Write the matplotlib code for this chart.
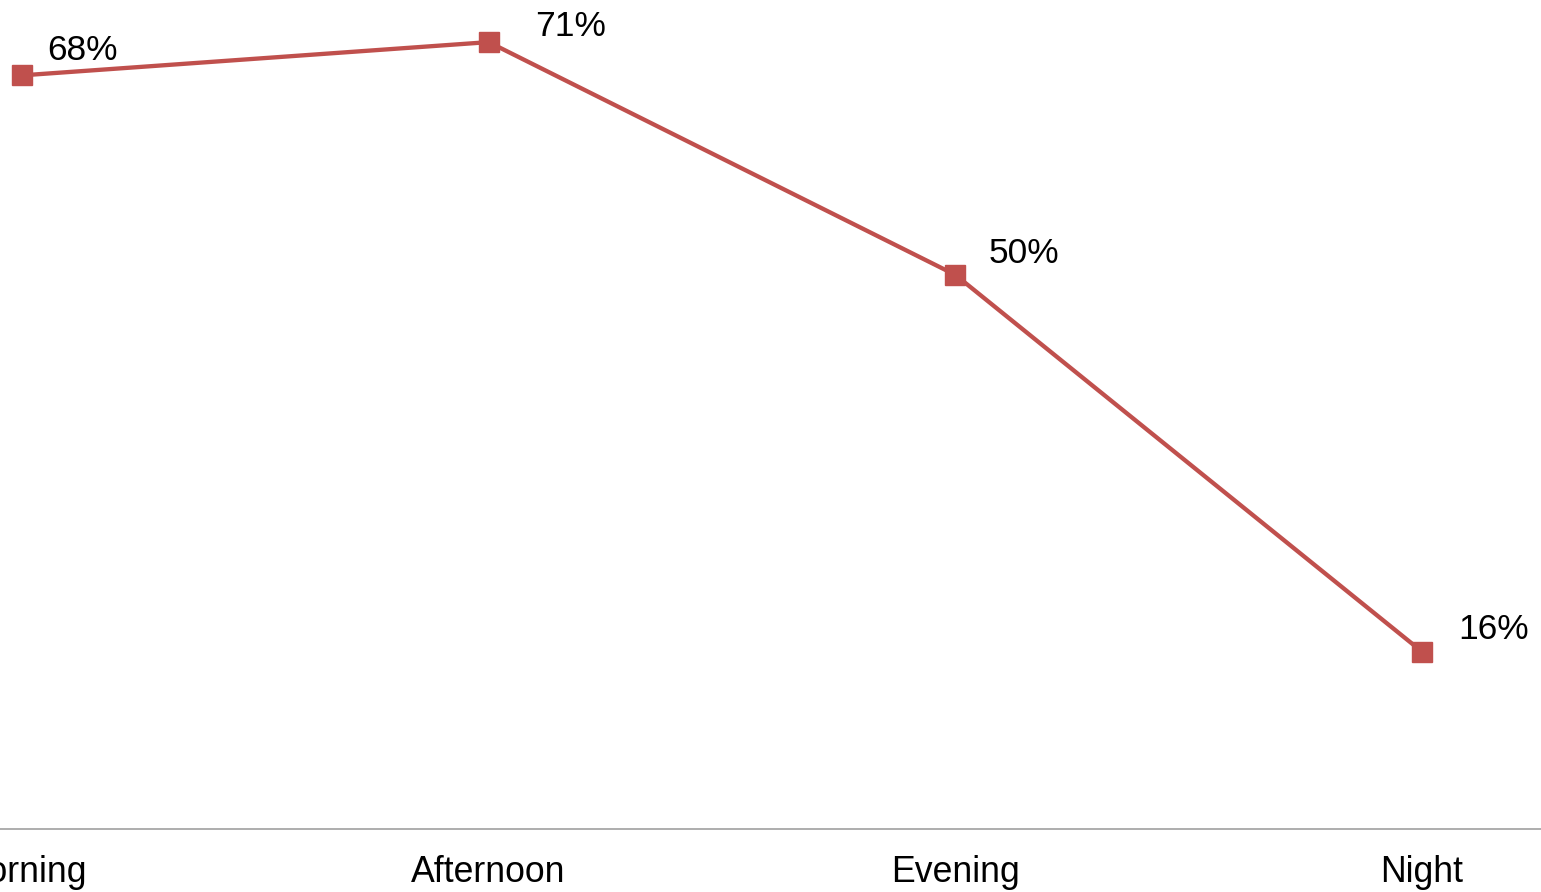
import matplotlib
matplotlib.use("Agg")
import matplotlib.pyplot as plt

# Data
periods = ["Morning", "Afternoon", "Evening", "Night"]
shares = [68, 71, 50, 16]
labels = ["68%", "71%", "50%", "16%"]

# label nudges in pixels (dx right, dy up)
label_offsets = [(25, 15), (46, 6), (33, 12), (36, 13)]

plt.rcParams["font.family"] = ["Liberation Sans", "DejaVu Sans"]

fig = plt.figure(figsize=(15.41, 8.92), dpi=100)
ax = fig.add_axes([0, 63 / 892, 1, 1 - 63 / 892])

x = list(range(len(periods)))
ax.plot(x, shares, color="#C0504D", linewidth=3.1, marker="s",
        markersize=14, clip_on=False, zorder=3)

for xi, yi, txt, (dx, dy) in zip(x, shares, labels, label_offsets):
    ax.annotate(txt, (xi, yi), xytext=(dx * 0.72, dy * 0.72),
                textcoords="offset points", ha="left", va="baseline",
                fontsize=25.5, color="black")

ax.set_xlim(-0.0471, 3.255)
ax.set_ylim(0, 74.8)

ax.set_xticks(x)
ax.set_xticklabels(periods, fontsize=25.7)
ax.tick_params(axis="x", length=0, pad=19)
ax.set_yticks([])

for side in ["top", "left", "right"]:
    ax.spines[side].set_visible(False)
ax.spines["bottom"].set_color("#a0a0a0")
ax.spines["bottom"].set_linewidth(1.2)

fig.savefig("out.png", dpi=100)
